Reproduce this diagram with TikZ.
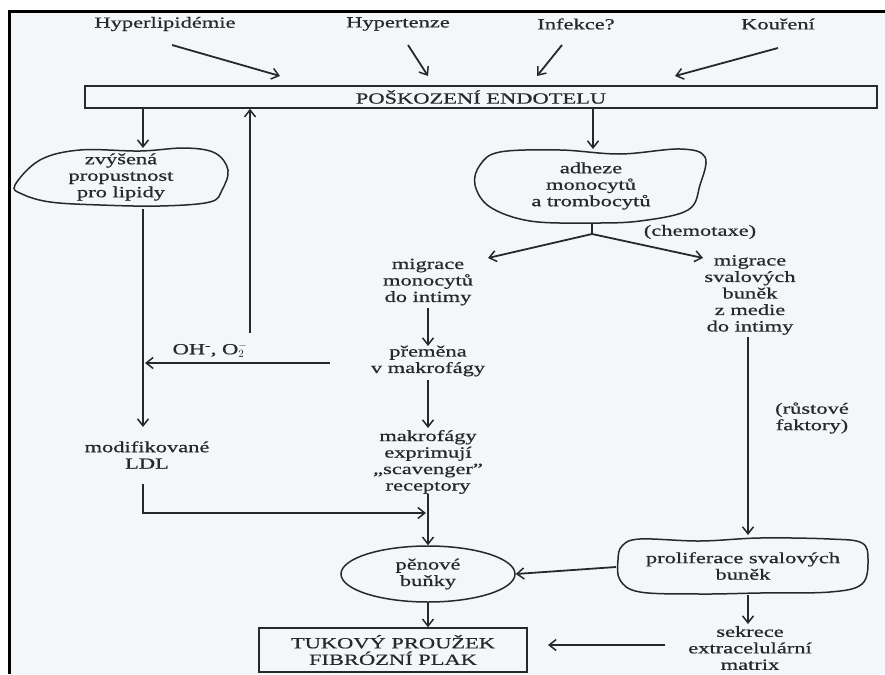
\documentclass[tikz,border=0pt]{standalone}
\usepackage{fontspec}
\setmainfont[FakeStretch=1.45,FakeBold=0.7]{Liberation Serif}
\usetikzlibrary{arrows.meta,shapes.geometric}
\definecolor{ink}{RGB}{40,40,40}
\definecolor{paper}{RGB}{244,247,249}
\begin{document}
\begin{tikzpicture}[x=1pt,y=-1pt,
  lbl/.style={font=\fontsize{15.5}{16.5}\selectfont, text=ink, align=center, inner sep=0pt},
  arr/.style={draw=ink, line width=1.8pt, -{Straight Barb[length=7pt,width=11pt,line width=1.5pt]}},
  ln/.style={draw=ink, line width=1.8pt},
  shp/.style={draw=ink, line width=1.5pt},
  boxed/.style={draw=ink, line width=1.5pt}]
\useasboundingbox (0,0) rectangle (885,674);
\fill[white] (0,0) rectangle (885,674);
\fill[paper] (9,12) rectangle (885,674);
\draw[line width=3pt, black] (9,674) -- (9,12) -- (885,12);

% top causes
\node[lbl] (hyp) at (165,24) {Hyperlipidémie};
\node[lbl] (hpt) at (398,24) {Hypertenze};
\node[lbl] (inf) at (576,24) {Infekce?};
\node[lbl] (kou) at (778,24) {Kouření};
\node[lbl, boxed, minimum width=792pt, minimum height=22pt] (endo) at (481,97) {POŠKOZENÍ ENDOTELU};

\coordinate (h1) at (172,45); \coordinate (h2) at (280,76);
\coordinate (p1) at (408,45); \coordinate (p2) at (428,76);
\coordinate (i1) at (562,45); \coordinate (i2) at (537,76);
\coordinate (k1) at (778,48); \coordinate (k2) at (675,76);
\draw[arr] (h1) -- (h2);
\draw[arr] (p1) -- (p2);
\draw[arr] (i1) -- (i2);
\draw[arr] (k1) -- (k2);

% left cloud
\draw[shp] plot[smooth cycle, tension=0.6] coordinates {(15,185) (40,160) (80,150) (140,151) (185,148) (215,153) (228,170) (222,190) (210,202) (160,206) (100,205) (50,202) (22,194)};
\node[lbl] (zvy) at (121,177) {zvýšená\\propustnost\\pro lipidy};

% adheze cloud
\draw[shp] plot[smooth cycle, tension=0.6] coordinates {(480,165) (500,152) (560,150) (620,154) (680,149) (705,157) (700,185) (688,210) (640,221) (590,223) (530,221) (490,207) (475,185)};
\node[lbl] (adh) at (591,186) {adheze\\monocytů\\a trombocytů};

% middle column
\node[lbl] (mig1) at (428,282) {migrace\\monocytů\\do intimy};
\node[lbl] (prem) at (428,361) {přeměna\\v makrofágy};
\node[lbl] (makr) at (428,462) {makrofágy\\exprimují\\„scavenger”\\receptory};
\node[lbl, shp, ellipse, minimum width=174pt, minimum height=56pt] (pen) at (428,574) {pěnové\\buňky};
\node[lbl, boxed, minimum width=268pt, minimum height=44pt] (tuk) at (393,650) {TUKOVÝ PROUŽEK\\FIBRÓZNÍ PLAK};

% right column
\node[lbl] (chem) at (700,232) {(chemotaxe)};
\node[lbl] (mig2) at (750,295) {migrace\\svalových\\buněk\\z medie\\do intimy};
\node[lbl] (rust) at (812,418) {(růstové\\faktory)};
\draw[shp] plot[smooth cycle, tension=0.6] coordinates {(622,546) (640,539) (700,541) (760,538) (830,539) (862,543) (868,560) (862,584) (830,592) (760,593) (700,594) (640,592) (620,580) (618,560)};
\node[lbl] (prol) at (743,566) {proliferace svalových\\buněk};
\node[lbl] (sekr) at (750,648) {sekrece\\extracelulární\\matrix};

% left column
\node[lbl] (mod) at (147,455) {modifikované\\LDL};
\node[lbl] (oh) at (210,350) {OH\textsuperscript{-}, O$_2^-$};

% connectors
\draw[arr] (endo.south -| 143,0) -- (143,148);
\draw[arr] (250,333) -- (endo.south -| 250,0);
\draw[arr] (endo.south -| 593,0) -- (593,149);
\draw[ln] (592,223) -- (592,234) coordinate (br);
\draw[arr] (br) -- (488,258);
\draw[arr] (br) -- (703,258);
\draw[arr] (428,308) -- (428,346);
\draw[arr] (428,380) -- (428,428);
\draw[arr] (428,494) -- (pen.north);
\draw[arr] (pen.south) -- (pen.south |- tuk.north);
\draw[arr] (143,209) -- (143,427);
\draw[arr] (330,363) -- (145,363);
\draw[arr] (143,484) -- (143,513) -- (426,513);
\draw[arr] (748,337) -- (748,535);
\draw[arr] (616,567) -- (pen.east);
\draw[arr] (748,595) -- (748,624);
\draw[arr] (665,645) -- (548,645);
\end{tikzpicture}
\end{document}
